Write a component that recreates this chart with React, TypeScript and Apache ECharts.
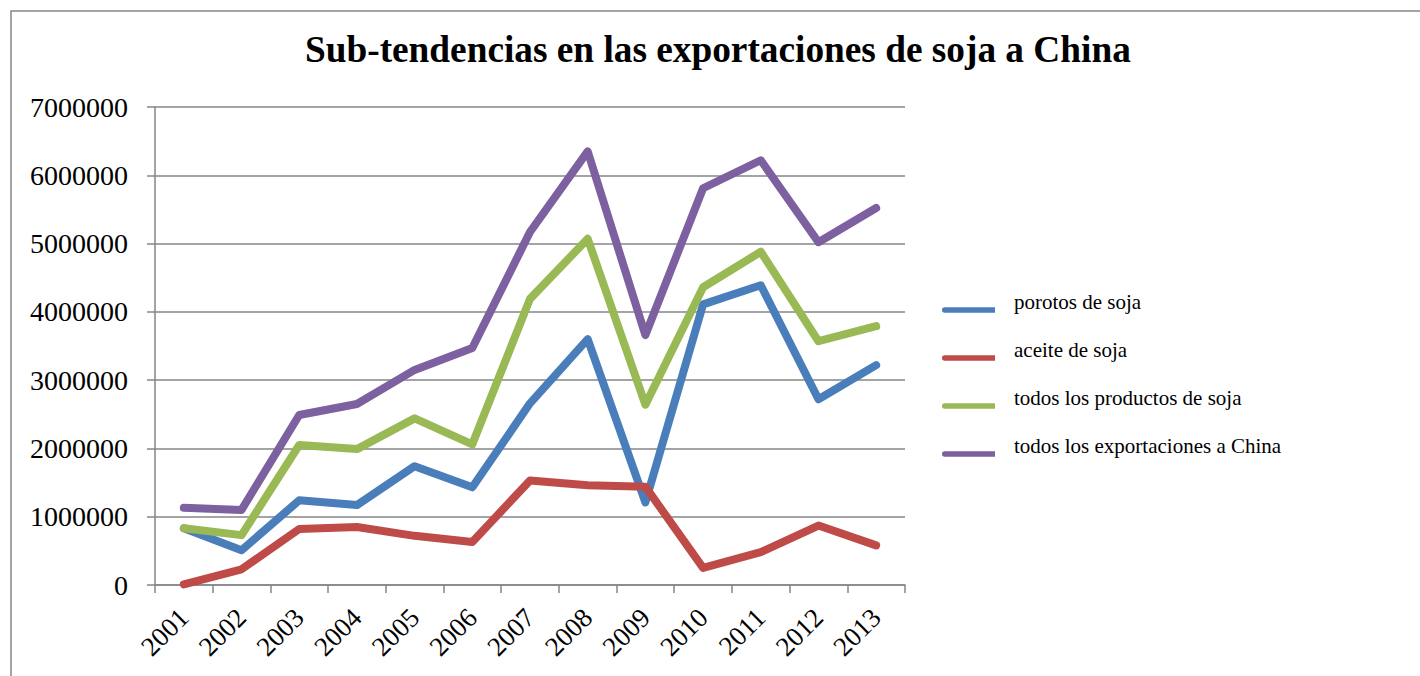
import React, { useEffect, useRef } from "react";
import * as echarts from "echarts";

const TITLE = "Sub-tendencias en las exportaciones de soja a China";
const YEARS = ["2001", "2002", "2003", "2004", "2005", "2006", "2007", "2008", "2009", "2010", "2011", "2012", "2013"];
const SERIES_NAMES = ["porotos de soja", "aceite de soja", "todos los productos de soja", "todos los exportaciones a China"];
const POROTOS = [830000, 510000, 1240000, 1170000, 1740000, 1430000, 2660000, 3600000, 1210000, 4110000, 4390000, 2720000, 3220000];
const ACEITE = [10000, 230000, 820000, 850000, 720000, 630000, 1530000, 1460000, 1440000, 250000, 480000, 870000, 580000];
const PRODUCTOS = [830000, 730000, 2050000, 1990000, 2440000, 2060000, 4190000, 5070000, 2640000, 4360000, 4880000, 3570000, 3790000];
const TODOS = [1130000, 1100000, 2490000, 2650000, 3150000, 3470000, 5170000, 6350000, 3660000, 5810000, 6220000, 5020000, 5520000];
const COLORS = ["#4A7EBB", "#BE4B48", "#98B954", "#7D60A0"];

const FONT = "'Liberation Serif', 'Times New Roman', serif";

export default function App() {
  const ref = useRef<HTMLDivElement>(null);
  useEffect(() => {
    document.body.style.margin = "0";
    if (!ref.current) return;
    const chart = echarts.init(ref.current, undefined, { renderer: "svg" });
    const data = [POROTOS, ACEITE, PRODUCTOS, TODOS];
    chart.setOption({
      animation: false,
      title: {
        text: TITLE,
        left: 305,
        top: 31,
        padding: 0,
        textStyle: { fontFamily: FONT, fontWeight: "bold", fontSize: 37.3, color: "#000" },
      },
      graphic: [
        {
          type: "rect",
          shape: { x: 11, y: 11, width: 1500, height: 800 },
          style: { fill: "none", stroke: "#868686", lineWidth: 1.5 },
          silent: true,
        },
      ],
      legend: {
        orient: "vertical",
        left: 942,
        top: 291,
        padding: 0,
        itemGap: 10,
        itemWidth: 53,
        itemHeight: 9,
        icon: "path://M5,0 H100 V10 H5 A5,5 0 0 1 5,0 Z",
        formatter: (name: string) => name + "\n ",
        textStyle: {
          fontFamily: FONT,
          fontSize: 21,
          color: "#000",
          lineHeight: 17,
          padding: [0, 0, 0, 14],
        },
        data: SERIES_NAMES,
      },
      grid: { left: 155, top: 107, width: 750, height: 478, containLabel: false },
      xAxis: {
        type: "category",
        data: YEARS,
        boundaryGap: true,
        axisLine: { lineStyle: { color: "#868686", width: 1.5 } },
        axisTick: { show: true, length: 8, lineStyle: { color: "#868686", width: 1.5 } },
        axisLabel: {
          rotate: 45,
          margin: 28,
          fontFamily: FONT,
          fontSize: 27,
          color: "#000",
          interval: 0,
        },
      },
      yAxis: {
        type: "value",
        min: 0,
        max: 7000000,
        interval: 1000000,
        axisLine: { show: true, lineStyle: { color: "#868686", width: 1.5 } },
        axisTick: { show: true, length: 8, lineStyle: { color: "#868686", width: 1.5 } },
        splitLine: { lineStyle: { color: "#868686", width: 1.5 } },
        axisLabel: {
          margin: 27,
          fontFamily: FONT,
          fontSize: 28,
          color: "#000",
          formatter: (v: number) => String(v),
        },
      },
      series: SERIES_NAMES.map((name, i) => ({
        name,
        type: "line",
        data: data[i],
        showSymbol: false,
        symbol: "none",
        color: COLORS[i],
        lineStyle: { width: 8, color: COLORS[i], cap: "round", join: "round" },
      })),
    });
    return () => chart.dispose();
  }, []);
  return <div ref={ref} style={{ width: 1420, height: 676 }} />;
}
